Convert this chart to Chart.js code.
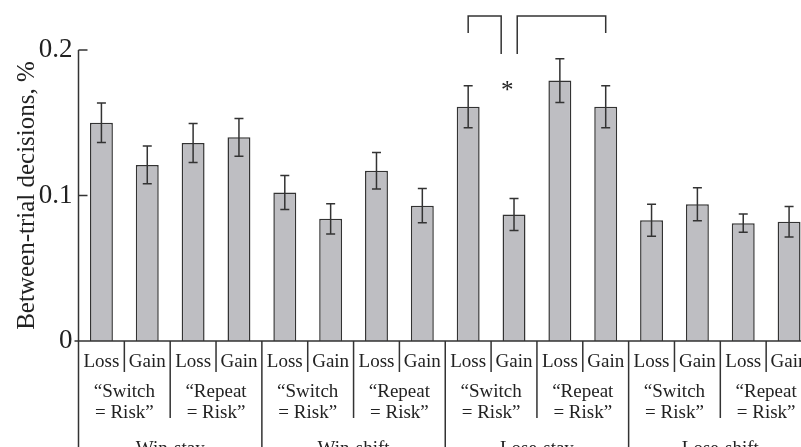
<!DOCTYPE html>
<html>
<head>
<meta charset="utf-8">
<script src="https://cdn.jsdelivr.net/npm/chart.js@4.4.0/dist/chart.umd.min.js"></script>
<style>
  body { margin: 0; overflow: hidden; background: #fff; }
  #wrap { width: 812px; height: 447px; }
</style>
</head>
<body>
<div id="wrap"><canvas id="myChart" width="812" height="447"></canvas></div>
<script>
// gegevens
var outcomes = ['Loss', 'Gain', 'Loss', 'Gain', 'Loss', 'Gain', 'Loss', 'Gain',
                'Loss', 'Gain', 'Loss', 'Gain', 'Loss', 'Gain', 'Loss', 'Gain'];
var rules = [['\u201cSwitch', '= Risk\u201d'], ['\u201cRepeat', '= Risk\u201d'],
             ['\u201cSwitch', '= Risk\u201d'], ['\u201cRepeat', '= Risk\u201d'],
             ['\u201cSwitch', '= Risk\u201d'], ['\u201cRepeat', '= Risk\u201d'],
             ['\u201cSwitch', '= Risk\u201d'], ['\u201cRepeat', '= Risk\u201d']];
var strategies = ['Win-stay', 'Win-shift', 'Lose-stay', 'Lose-shift'];
var means = [0.150, 0.121, 0.136, 0.140, 0.102, 0.084, 0.117, 0.093,
             0.161, 0.087, 0.179, 0.161, 0.083, 0.094, 0.081, 0.082];
var errors = [0.0136, 0.013, 0.0134, 0.013, 0.0117, 0.0104, 0.0125, 0.0118,
              0.0144, 0.011, 0.015, 0.0144, 0.011, 0.0114, 0.0063, 0.0105];
var yTicks = [0, 0.1, 0.2];

var ink = '#333';
var serif = 'Liberation Serif, Times New Roman, serif';

// foutbalken, assen, scheidingslijnen en de rijen met labels onder de as
var extras = {
    id: 'extras',
    afterDatasetsDraw: function(chart) {
        var ctx = chart.ctx;
        var y = chart.scales.y;
        var meta = chart.getDatasetMeta(0);
        ctx.save();
        ctx.strokeStyle = ink;
        ctx.lineWidth = 1.5;
        meta.data.forEach(function(bar, i) {
            var top = y.getPixelForValue(means[i] + errors[i]);
            var bot = y.getPixelForValue(means[i] - errors[i]);
            ctx.beginPath();
            ctx.moveTo(bar.x, top); ctx.lineTo(bar.x, bot);
            ctx.moveTo(bar.x - 4.5, top); ctx.lineTo(bar.x + 4.5, top);
            ctx.moveTo(bar.x - 4.5, bot); ctx.lineTo(bar.x + 4.5, bot);
            ctx.stroke();
        });
        ctx.restore();
    },
    afterDraw: function(chart) {
        var ctx = chart.ctx;
        var x = chart.scales.x;
        var y = chart.scales.y;
        var area = chart.chartArea;
        var H = chart.height;
        ctx.save();
        ctx.strokeStyle = ink;
        ctx.lineWidth = 1.5;
        ctx.beginPath();
        // y-as loopt door tot onderaan
        ctx.moveTo(area.left, y.getPixelForValue(0.2));
        ctx.lineTo(area.left, H);
        // tick streepjes naar binnen
        yTicks.forEach(function(t) {
            if (t === 0) return;
            var py = y.getPixelForValue(t);
            ctx.moveTo(area.left, py); ctx.lineTo(area.left + 9, py);
        });
        // nul-lijn
        var y0 = y.getPixelForValue(0);
        ctx.moveTo(area.left - 4, y0); ctx.lineTo(area.right, y0);
        // scheidingslijnen
        for (var i = 0; i < outcomes.length - 1; i++) {
            var bx = (x.getPixelForValue(i) + x.getPixelForValue(i + 1)) / 2;
            var end = y0 + 31;
            if (i % 4 === 3) end = H;
            else if (i % 2 === 1) end = y0 + 77;
            ctx.moveTo(bx, y0); ctx.lineTo(bx, end);
        }
        ctx.stroke();

        ctx.fillStyle = '#222';
        ctx.font = '19px ' + serif;
        ctx.textAlign = 'center';
        ctx.textBaseline = 'alphabetic';
        rules.forEach(function(r, k) {
            var cx = (x.getPixelForValue(2 * k) + x.getPixelForValue(2 * k + 1)) / 2;
            ctx.fillText(r[0], cx, y0 + 56);
            ctx.fillText(r[1], cx, y0 + 77);
        });
        strategies.forEach(function(s, k) {
            var cx = (x.getPixelForValue(4 * k) + x.getPixelForValue(4 * k + 3)) / 2;
            ctx.fillText(s, cx, y0 + 113);
        });

        // significantie haken boven Lose-stay
        var cw = x.getPixelForValue(1) - x.getPixelForValue(0);
        var yTop = y.getPixelForValue(0.2234);
        var yLong = y.getPixelForValue(0.1973);
        var yShort = y.getPixelForValue(0.2117);
        var l1 = x.getPixelForValue(8), r1 = x.getPixelForValue(9) - 0.28 * cw;
        var l2 = x.getPixelForValue(9) + 0.07 * cw, r2 = x.getPixelForValue(11);
        ctx.beginPath();
        ctx.moveTo(l1, yShort); ctx.lineTo(l1, yTop); ctx.lineTo(r1, yTop); ctx.lineTo(r1, yLong);
        ctx.moveTo(l2, yLong); ctx.lineTo(l2, yTop); ctx.lineTo(r2, yTop); ctx.lineTo(r2, yShort);
        ctx.stroke();
        ctx.font = '25px ' + serif;
        ctx.fillText('*', x.getPixelForValue(9) - 0.15 * cw, y.getPixelForValue(0.175) + 12);
        ctx.restore();
    }
};

var ctx1 = document.getElementById('myChart');
var myChart = new Chart(ctx1, {
    type: 'bar',
    data: {
        labels: outcomes,
        datasets: [{
            data: means,
            backgroundColor: '#bebec2',
            borderColor: ink,
            borderWidth: 1.5,
            barPercentage: 0.5,
            categoryPercentage: 1
        }]
    },
    options: {
        responsive: false,
        animation: false,
        devicePixelRatio: 1,
        layout: { padding: { top: 50, right: 0, left: 0, bottom: 0 } },
        plugins: { legend: { display: false }, tooltip: { enabled: false } },
        scales: {
            x: {
                grid: { display: false, drawTicks: false },
                border: { display: false },
                ticks: {
                    color: '#222',
                    font: { family: serif, size: 19 },
                    padding: 10,
                    maxRotation: 0,
                    autoSkip: false
                },
                afterFit: function(s) { s.height = 106; s.paddingLeft = 0; s.paddingRight = 0; }
            },
            y: {
                min: 0,
                max: 0.2,
                grid: { display: false, drawTicks: false },
                border: { display: false },
                afterBuildTicks: function(s) { s.ticks = yTicks.map(function(v) { return { value: v }; }); },
                ticks: {
                    color: '#222',
                    font: { family: serif, size: 27 },
                    padding: 6,
                    callback: function(v) { return v === 0 ? '0' : v.toFixed(1); }
                },
                title: {
                    display: true,
                    text: 'Between-trial decisions, %',
                    color: '#222',
                    font: { family: serif, size: 25 },
                    padding: { top: 12, bottom: 0 }
                },
                afterFit: function(s) { s.width = 78.5; }
            }
        }
    },
    plugins: [extras]
});
</script>
</body>
</html>
